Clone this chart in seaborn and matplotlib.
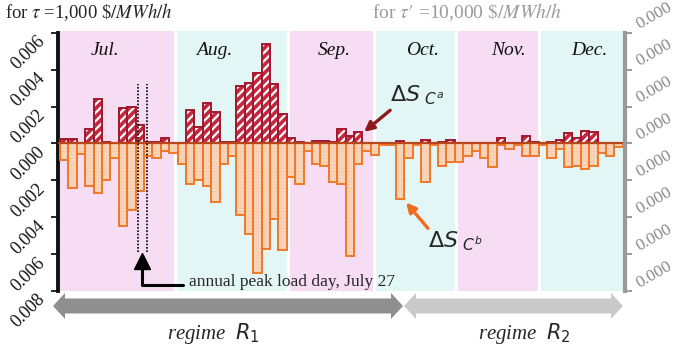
# Daily surplus change for the two contract types, Jul-Dec, with month shading and regimes.
import numpy as np
import pandas as pd
import matplotlib
matplotlib.use('Agg')
import matplotlib.pyplot as plt
from matplotlib.patches import Polygon
import seaborn as sns

# values (one bar per period, Jul..Dec)
delta_ca = [0.00025, 0.00025, 0, 0.0008, 0.0024, 0.0001, 0, 0.0019, 0.0020, 0.0010, 0.0001, 0.0001, 0.0003, 0,
            0, 0.0018, 0.0009, 0.0022, 0.0017, 0.0001, 0.0001, 0.0031, 0.0033, 0.0038, 0.0054, 0.0032, 0.0016,
            0.0003, 0.0001, 0, 0.00015, 0.00015, 0.0001, 0.0008, 0.0004, 0.0006, 0, 0,
            0, 0, 0.00015, 0, 0, 0.0002, 0, 0.0001, 0.0002, 0, 0, 0, 0, 0,
            0.0003, 0, 0, 0.0004, 0.0001, 0, 0.0001, 0.0002, 0.00055, 0.0003, 0.0007, 0.0006, 0, 0, 0]
delta_cb = [0.0009, 0.0024, 0.00055, 0.0023, 0.0027, 0.0020, 0.0008, 0.0045, 0.0036, 0.0026, 0.0007, 0.0008, 0.0004, 0.0005,
            0.0011, 0.0022, 0.0020, 0.0023, 0.0032, 0.0011, 0.0007, 0.0039, 0.0049, 0.0070, 0.0057, 0.0041, 0.0058,
            0.0018, 0.0022, 0.0004, 0.0011, 0.0012, 0.0021, 0.0022, 0.0061, 0.0011, 0.0004, 0.0006,
            0.0001, 0.0001, 0.0030, 0.0008, 0.0001, 0.0021, 0.0001, 0.0012, 0.0010, 0.0010, 0.0007, 0.0004, 0.0008, 0.0013,
            0.0001, 0.0003, 0.0001, 0.0007, 0.0007, 0.0001, 0.0008, 0.0003, 0.0013, 0.0012, 0.0014, 0.0012, 0.0005, 0.0007, 0.0002]

months = ['Jul.', 'Aug.', 'Sep.', 'Oct.', 'Nov.', 'Dec.']
month_edges = [-0.5, 13.13, 26.7, 36.88, 46.64, 56.52, 66.5]
month_label_x = [4.8, 17.9, 32.2, 42.6, 52.9, 62.5]
peak_day = 9

left_ticks = [-0.008, -0.006, -0.004, -0.002, 0.0, 0.002, 0.004, 0.006]
left_labels = ['0.008', '0.006', '0.004', '0.002', '0.000', '0.002', '0.004', '0.006']
right_labels = ['0.000'] * 8

df = pd.DataFrame({'period': np.arange(len(delta_ca)), 'ca': delta_ca,
                   'cb': [-v for v in delta_cb]})

sns.set_style('white')
plt.rcParams['font.family'] = ['Liberation Serif', 'DejaVu Serif']
plt.rcParams['mathtext.fontset'] = 'stix'
plt.rcParams['hatch.linewidth'] = 1.6

W, H = 680, 349
fig = plt.figure(figsize=(6.8, 3.49), dpi=100)
ax = fig.add_axes([58 / W, 58 / H, 567 / W, 260 / H])

# month shading
band_colors = ['#F6DDF3', '#E3F6F6']
for i in range(len(months)):
    ax.axvspan(month_edges[i], month_edges[i + 1], color=band_colors[i % 2], lw=0, zorder=0)
    ax.text(month_label_x[i], 0.925, months[i], transform=ax.get_xaxis_transform(),
            fontsize=14, style='italic', ha='center', va='center', color='#111')
for e in month_edges[1:-1]:
    ax.axvline(e, color='white', lw=2, zorder=0.5)

# negative bars (C^b): dotted light orange fill + orange outline
sns.barplot(data=df, x='period', y='cb', native_scale=True, width=1, errorbar=None,
            color='#F7C39E', saturation=1, linewidth=0, ax=ax, zorder=2)
for p in ax.containers[-1]:
    p.set_hatch('.....')
    p.set_edgecolor('#FCE4D2')
sns.barplot(data=df, x='period', y='cb', native_scale=True, width=1, errorbar=None,
            color='#F07828', saturation=1, fill=False, linewidth=1.4, ax=ax, zorder=3)

# positive bars (C^a): red with white stripes + dark red outline
sns.barplot(data=df, x='period', y='ca', native_scale=True, width=1, errorbar=None,
            color='#C4283F', saturation=1, linewidth=0, ax=ax, zorder=2)
for p in ax.containers[-1]:
    p.set_hatch('////')
    p.set_edgecolor('white')
sns.barplot(data=df, x='period', y='ca', native_scale=True, width=1, errorbar=None,
            color='#A3172E', saturation=1, fill=False, linewidth=1.4, ax=ax, zorder=3)

ax.axhline(0, color='#B8461C', lw=1.6, zorder=4)

ax.set_xlim(-0.74, 66.76)
ax.set_ylim(-0.008, 0.0061)
ax.set_xlabel('')
ax.set_ylabel('')
ax.set_xticks([])
ax.set_yticks(left_ticks)
ax.set_yticklabels(left_labels, rotation=45, ha='right', va='top', fontsize=13,
                   family='Liberation Serif', color='#111')
ax.tick_params(axis='y', length=5, width=1.2, color='black', pad=2)
for s in ['top', 'right', 'bottom']:
    ax.spines[s].set_visible(False)
ax.spines['left'].set_linewidth(2.8)
ax.spines['left'].set_color('#111')
ax.spines['left'].set_bounds(-0.008, 0.006)

ax2 = ax.twinx()
ax2.set_ylim(ax.get_ylim())
ax2.set_yticks(left_ticks)
ax2.set_yticklabels(right_labels, rotation=30, ha='left', va='bottom', family='Liberation Serif',
                    rotation_mode='anchor', fontsize=12.5, color='#8A8A8A')
ax2.tick_params(axis='y', length=5, width=1.2, color='#8A8A8A', pad=7)
for s in ['top', 'left', 'bottom']:
    ax2.spines[s].set_visible(False)
ax2.spines['right'].set_linewidth(3)
ax2.spines['right'].set_color('#9A9A9A')
ax2.spines['right'].set_bounds(-0.008, 0.006)

# peak load day marker
ax.vlines([peak_day - 0.25, peak_day + 0.85], -0.0059, 0.0032, colors='black',
          linestyles=(0, (1, 1)), lw=1.2, zorder=5)
ax.plot([peak_day + 0.3], [-0.0064], marker='^', ms=11, color='black', zorder=6, clip_on=False)
ax.plot([peak_day + 0.3, peak_day + 0.3, 14.1], [-0.0066, -0.00767, -0.00767],
        color='black', lw=2.2, zorder=6, clip_on=False)
ax.text(14.9, -0.0075, 'annual peak load day, July 27', fontsize=12.5, va='center', zorder=6)

# ΔS labels with arrows
ax.annotate('', xy=(35.7, 0.00063), xytext=(38.8, 0.0018),
            arrowprops=dict(arrowstyle='-|>', color='#8B1A1A', lw=2.4, mutation_scale=14,
                            shrinkA=0, shrinkB=0), zorder=7)
ax.text(38.8, 0.0026, r'$\Delta S_{\ C^{a}}$', fontsize=16, va='center', math_fontfamily='dejavusans')
ax.annotate('', xy=(40.7, -0.0032), xytext=(43.3, -0.0046),
            arrowprops=dict(arrowstyle='-|>', color='#F06A20', lw=2.4, mutation_scale=14,
                            shrinkA=0, shrinkB=0), zorder=7)
ax.text(43.3, -0.0053, r'$\Delta S_{\ C^{b}}$', fontsize=16, va='center', math_fontfamily='dejavusans')


def double_arrow(x0, x1, yc, body, head, hlen, color):
    pts = [(x0, yc), (x0 + hlen, yc + head), (x0 + hlen, yc + body), (x1 - hlen, yc + body),
           (x1 - hlen, yc + head), (x1, yc), (x1 - hlen, yc - head), (x1 - hlen, yc - body),
           (x0 + hlen, yc - body), (x0 + hlen, yc - head)]
    pts = [(x / W, 1 - y / H) for x, y in pts]
    fig.patches.append(Polygon(pts, closed=True, color=color, lw=0, transform=fig.transFigure))


double_arrow(53, 403, 306, 7.5, 13, 12, '#8F8F8F')
double_arrow(404, 623, 306, 7.5, 13, 12, '#C9C9C9')

# titles and regime labels
fig.text(5 / W, 1 - 12 / H, r'for $\tau$ =1,000 $\mathit{\$/MWh/h}$', fontsize=13.5, va='center')
fig.text(562 / W, 1 - 12 / H, r"for $\tau\prime$ =10,000 $\mathit{\$/MWh/h}$", fontsize=14,
         va='center', ha='right', color='#9A9A9A')
fig.text(213 / W, 1 - 333 / H, r'regime  $R_{1}$', fontsize=15, style='italic',
         ha='center', va='center', math_fontfamily='dejavusans')
fig.text(524 / W, 1 - 333 / H, r'regime  $R_{2}$', fontsize=15, style='italic',
         ha='center', va='center', math_fontfamily='dejavusans')

fig.savefig('out.png', dpi=100)
